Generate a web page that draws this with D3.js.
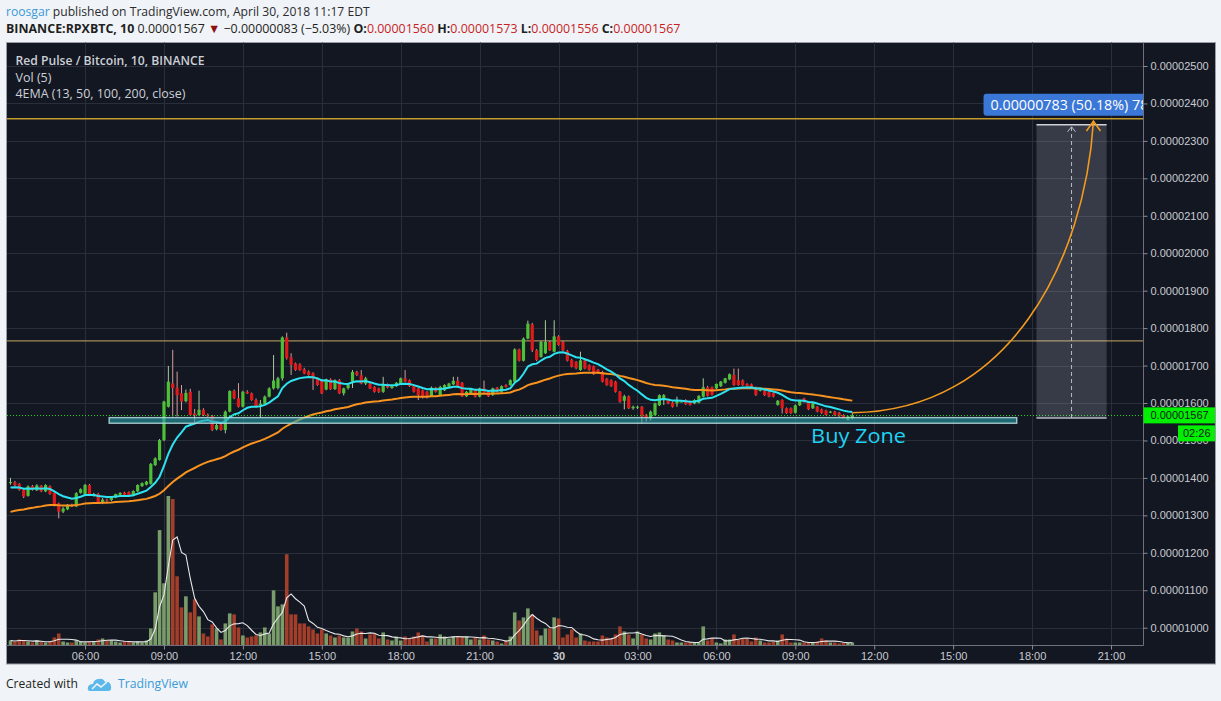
<!DOCTYPE html>
<html>
<head>
<meta charset="utf-8">
<script src="https://cdnjs.cloudflare.com/ajax/libs/d3/7.8.5/d3.min.js"></script>
<style>
  html, body { margin: 0; padding: 0; background: #f0f3f7; }
  svg { display: block; }
</style>
</head>
<body>
<svg id="chart" width="1221" height="701"></svg>
<script>
// RPX/BTC 10 minute bars, prices in satoshi (1e-8 BTC)
// bar index counts 10 min steps from 2018-04-29 00:00, first bar is 03:10
const firstBar = 19;

const opens = [
  1386,1388,1384,1368,1352,
  1378,1367,1379,1364,1378,1360,  1332,1310,1316,1328,1324,1360,
  1356,1381,1354,1357,1336,1342,  1341,1348,1355,1361,1362,1353,
  1364,1378,1382,1384,1434,1448,  1501,1590,1652,1641,1626,1605,
  1630,1572,1568,1582,1569,1565,  1530,1543,1528,1577,1632,1613,
  1590,1630,1626,1608,1594,1598,  1617,1639,1640,1666,1775,1722,
  1706,1703,1690,1684,1679,1666,  1661,1636,1663,1637,1661,1626,
  1640,1657,1683,1674,1652,1652,  1643,1639,1630,1650,1640,1645,
  1651,1666,1661,1645,1639,1634,  1630,1618,1641,1621,1634,1643,
  1650,1659,1654,1618,1626,1636,  1617,1639,1630,1621,1641,1630,
  1648,1648,1657,1743,1713,1772,  1810,1741,1723,1733,1763,1737,
  1778,1763,1739,1715,1710,1688,  1714,1701,1698,1689,1683,1665,
  1661,1657,1630,1606,1618,1586,  1588,1590,1569,1559,1568,1594,
  1608,1608,1601,1599,1604,1608,  1604,1599,1601,1617,1642,1642,
  1639,1645,1654,1663,1675,1661,  1660,1651,1650,1642,1635,1633,
  1630,1626,1595,1608,1586,1586,  1574,1594,1612,1603,1586,1590,
  1583,1580,1577,1577,1574,1568,  1555,1560
];
const highs = [
  1400,1392,1386,1370,1380,
  1381,1383,1381,1383,1380,1362,  1334,1322,1330,1331,1362,1372,
  1384,1384,1360,1360,1346,1345,  1350,1358,1362,1363,1364,1367,
  1383,1388,1392,1440,1455,1504,  1606,1699,1742,1684,1648,1636,
  1638,1584,1633,1586,1572,1568,  1545,1545,1580,1634,1636,1653,
  1633,1634,1628,1612,1608,1620,  1642,1728,1670,1778,1788,1733,
  1708,1706,1694,1687,1682,1668,  1664,1665,1666,1663,1664,1641,
  1650,1688,1686,1688,1670,1655,  1645,1641,1670,1652,1648,1656,
  1668,1688,1663,1648,1641,1636,  1632,1644,1643,1646,1650,1654,
  1670,1670,1656,1632,1640,1638,  1641,1660,1632,1641,1643,1647,
  1650,1663,1746,1745,1775,1820,  1814,1744,1766,1821,1766,1821,
  1781,1766,1742,1718,1712,1737,  1716,1703,1700,1691,1686,1667,
  1663,1659,1632,1622,1620,1593,  1593,1592,1571,1580,1601,1623,
  1624,1611,1604,1617,1607,1610,  1606,1610,1621,1666,1646,1644,
  1652,1659,1667,1679,1692,1692,  1663,1653,1652,1644,1637,1635,
  1632,1628,1608,1610,1588,1588,  1596,1608,1614,1605,1600,1592,
  1585,1582,1579,1579,1576,1570,  1566,1573
];
const lows = [
  1382,1378,1366,1346,1350,
  1366,1365,1362,1362,1355,1324,  1292,1306,1314,1322,1322,1358,
  1354,1352,1350,1333,1330,1336,  1338,1346,1352,1352,1350,1351,
  1362,1376,1380,1382,1432,1446,  1498,1588,1564,1564,1581,1602,
  1566,1546,1565,1565,1563,1525,  1527,1526,1519,1575,1610,1588,
  1588,1624,1606,1588,1562,1596,  1615,1636,1636,1660,1716,1675,
  1686,1686,1677,1673,1635,1646,  1624,1634,1635,1635,1624,1620,
  1636,1640,1672,1650,1648,1637,  1628,1627,1627,1639,1638,1643,
  1649,1655,1643,1628,1608,1612,  1612,1616,1628,1619,1632,1641,
  1648,1641,1616,1616,1624,1615,  1615,1627,1616,1619,1628,1628,
  1641,1646,1655,1711,1711,1770,  1736,1712,1721,1731,1739,1735,
  1753,1739,1711,1695,1690,1686,  1690,1686,1675,1678,1655,1646,
  1643,1628,1601,1583,1584,1582,  1584,1545,1550,1553,1566,1592,
  1595,1597,1588,1590,1602,1595,  1593,1597,1599,1615,1617,1620,
  1637,1643,1652,1661,1646,1646,  1646,1643,1641,1619,1631,1619,
  1615,1615,1593,1572,1571,1571,  1572,1592,1601,1581,1584,1575,
  1571,1567,1573,1566,1563,1559,  1553,1556
];
const closes = [
  1389,1381,1368,1350,1377,
  1368,1380,1364,1381,1357,1328,  1310,1318,1328,1324,1359,1370,
  1381,1354,1357,1336,1342,1340,  1348,1357,1360,1355,1352,1365,
  1381,1386,1390,1437,1452,1501,  1604,1657,1640,1621,1604,1627,
  1568,1568,1582,1568,1566,1528,  1541,1528,1577,1632,1613,1590,
  1630,1626,1608,1590,1598,1617,  1639,1660,1666,1775,1720,1702,
  1688,1688,1679,1675,1666,1648,  1626,1663,1637,1661,1626,1639,
  1648,1683,1675,1652,1666,1639,  1630,1630,1648,1641,1645,1654,
  1666,1657,1645,1630,1621,1618,  1618,1641,1630,1643,1648,1652,
  1659,1643,1618,1630,1637,1617,  1639,1628,1618,1639,1630,1645,
  1643,1661,1743,1713,1772,1812,  1741,1715,1763,1763,1741,1778,
  1755,1741,1713,1697,1693,1714,  1692,1688,1677,1680,1657,1648,
  1645,1630,1603,1618,1586,1590,  1590,1564,1559,1577,1599,1621,
  1621,1599,1590,1608,1604,1597,  1595,1608,1619,1642,1619,1622,
  1651,1657,1666,1677,1648,1648,  1648,1645,1643,1622,1635,1621,
  1617,1617,1606,1586,1573,1573,  1594,1607,1603,1583,1599,1577,
  1573,1568,1577,1568,1565,1559,  1564,1567
];
// volume, relative units
const volumes = [
  5,4,6,5,4,
  3,5,4,3,4,8,      12,4,3,3,5,4,
  3,4,4,6,7,5,      5,4,3,4,4,3,
  4,3,5,17,53,115,  62,149,146,69,38,49,
  33,46,29,12,9,21, 17,6,22,32,31,18,
  10,8,9,10,13,18,  12,55,39,41,91,31,
  31,22,22,19,16,12, 16,12,10,8,10,8,
  8,14,17,14,7,11,  12,7,13,6,5,9,
  5,9,7,9,13,10,    4,7,7,11,9,7,
  9,9,9,9,6,8,      6,10,6,5,4,2,
  5,9,33,25,28,37,  31,15,10,17,17,28,
  27,8,11,16,8,12,  5,4,4,4,10,8,
  7,11,19,14,11,7,  14,11,7,6,12,13,
  10,6,5,3,3,3,     3,3,3,19,5,7,
  3,2,6,6,11,6,     7,7,4,8,5,3,
  3,4,5,11,7,3,     3,3,3,3,3,4,
  7,5,3,3,2,3,      3,3
];

// EMA values at the first bar
const ema13Start = 1372;
const ema50Start = 1306;

const priceTicks = d3.range(1000, 2501, 100);
const levelLines = [2359, 1766];
const lastPrice = 1567;
const buyZonePrices = [1546, 1561];
const buyZoneTimes = ["2018-04-29 06:55", "2018-04-30 17:25"];
const measurePrices = [1560, 2343];
const measureTimes = ["2018-04-30 18:10", "2018-04-30 19:30", "2018-04-30 20:50"];
const arrowTimes = ["2018-04-30 11:10", "2018-04-30 17:10", "2018-04-30 20:00", "2018-04-30 20:20"];
const arrowPrices = [1574, 1579, 1982, 2353];
const buyZoneLabel = {time: "2018-04-30 09:36", price: 1493};

// ---------------------------------------------------------------
const parse = d3.utcParse("%Y-%m-%d %H:%M");
const day0 = Date.UTC(2018, 3, 29, 0, 0);
const barTime = i => new Date(day0 + i * 600000);

const bars = closes.map((c, k) => ({
  t: barTime(firstBar + k), o: opens[k], h: highs[k], l: lows[k], c: c, v: volumes[k]
}));

function ema(values, period, start) {
  const k = 2 / (period + 1);
  let e = start;
  return values.map(v => (e = e + k * (v - e)));
}
const ema13 = ema(closes, 13, ema13Start);
const ema50 = ema(closes, 50, ema50Start);
const volMa = volumes.map((v, k) => d3.mean(volumes.slice(Math.max(0, k - 4), k + 1)));

const L = 7, R = 1143.5, T = 42.5, B = 645.5;

const x = d3.scaleUtc()
  .domain([parse("2018-04-29 03:02"), parse("2018-04-30 22:13")])
  .range([L, 1143]);
const y = d3.scaleLinear().domain([1000, 2500]).range([627.7, 66]);
const vy = d3.scaleLinear().domain([0, 150]).range([B, 495]);

const timeTicks = d3.utcHours(parse("2018-04-29 06:00"), parse("2018-04-30 22:00"), 3);

const svg = d3.select("#chart");

// dark panel
svg.append("rect")
  .attr("x", 6.5).attr("y", 42.5).attr("width", 1209).attr("height", 621.5)
  .attr("fill", "#131722").attr("stroke", "#9a9da6");

svg.append("clipPath").attr("id", "plotclip")
  .append("rect").attr("x", L).attr("y", T).attr("width", R - L).attr("height", B - T);

const grid = svg.append("g").attr("stroke", "#2a2e3a").attr("stroke-width", 1);
timeTicks.forEach(t => {
  grid.append("line").attr("x1", Math.round(x(t)) + 0.5).attr("x2", Math.round(x(t)) + 0.5)
    .attr("y1", T).attr("y2", B);
});
priceTicks.forEach(p => {
  grid.append("line").attr("x1", L).attr("x2", R)
    .attr("y1", Math.round(y(p)) + 0.5).attr("y2", Math.round(y(p)) + 0.5);
});

const plot = svg.append("g").attr("clip-path", "url(#plotclip)");

// volume
plot.append("g").selectAll("rect").data(bars).enter().append("rect")
  .attr("x", d => x(d.t) - 1.8)
  .attr("width", 3.6)
  .attr("y", d => vy(d.v))
  .attr("height", d => B - vy(d.v))
  .attr("fill", d => d.c >= d.o ? "#7a9c6a" : "#a33e2a");

plot.append("path")
  .datum(bars)
  .attr("fill", "none")
  .attr("stroke", "#e8e8ea")
  .attr("stroke-width", 1.1)
  .attr("d", d3.line().x(d => x(d.t)).y((d, k) => vy(volMa[k])));

// horizontal levels
plot.append("line").attr("x1", L).attr("x2", R)
  .attr("y1", y(levelLines[0])).attr("y2", y(levelLines[0]))
  .attr("stroke", "#c39a2e").attr("stroke-width", 1.4);
plot.append("line").attr("x1", L).attr("x2", R)
  .attr("y1", y(levelLines[1])).attr("y2", y(levelLines[1]))
  .attr("stroke", "#a48c58").attr("stroke-width", 1.2);

// candles
const candle = plot.append("g").selectAll("g").data(bars).enter().append("g");
candle.append("line")
  .attr("x1", d => x(d.t)).attr("x2", d => x(d.t))
  .attr("y1", d => y(d.h)).attr("y2", d => y(d.l))
  .attr("stroke", d => d.c >= d.o ? "#a9cc9e" : "#d79b9b")
  .attr("stroke-width", 1);
candle.append("rect")
  .attr("x", d => x(d.t) - 1.6)
  .attr("width", 3.2)
  .attr("y", d => y(Math.max(d.o, d.c)))
  .attr("height", d => Math.max(1, Math.abs(y(d.o) - y(d.c))))
  .attr("fill", d => d.c >= d.o ? "#4dbf38" : "#e0191b");

// EMA lines
plot.append("path").datum(bars)
  .attr("fill", "none").attr("stroke", "#f7931e").attr("stroke-width", 2)
  .attr("d", d3.line().x(d => x(d.t)).y((d, k) => y(ema50[k])));
plot.append("path").datum(bars)
  .attr("fill", "none").attr("stroke", "#2ee3ef").attr("stroke-width", 2)
  .attr("d", d3.line().x(d => x(d.t)).y((d, k) => y(ema13[k])));

// buy zone
plot.append("rect")
  .attr("x", x(parse(buyZoneTimes[0])))
  .attr("width", x(parse(buyZoneTimes[1])) - x(parse(buyZoneTimes[0])))
  .attr("y", y(buyZonePrices[1]))
  .attr("height", y(buyZonePrices[0]) - y(buyZonePrices[1]))
  .attr("fill", "rgba(40,160,170,0.6)")
  .attr("stroke", "rgba(185,222,226,0.85)")
  .attr("stroke-width", 1.4);

// last price dotted line
plot.append("line").attr("x1", L).attr("x2", R)
  .attr("y1", Math.round(y(lastPrice)) + 0.5).attr("y2", Math.round(y(lastPrice)) + 0.5)
  .attr("stroke", "#1ed31e").attr("stroke-width", 1).attr("stroke-dasharray", "1,2");

// measurement box
const mx0 = x(parse(measureTimes[0])), mxc = x(parse(measureTimes[1])), mx1 = x(parse(measureTimes[2]));
const my0 = y(measurePrices[0]), my1 = y(measurePrices[1]);
plot.append("rect").attr("x", mx0).attr("width", mx1 - mx0)
  .attr("y", my1).attr("height", my0 - my1)
  .attr("fill", "rgba(200,205,222,0.2)");
plot.append("line").attr("x1", mx0).attr("x2", mx1).attr("y1", my1).attr("y2", my1)
  .attr("stroke", "#cfd1d6").attr("stroke-width", 1.5);
plot.append("line").attr("x1", mx0).attr("x2", mx1).attr("y1", my0).attr("y2", my0)
  .attr("stroke", "#b8bac0").attr("stroke-width", 1.5);
plot.append("line").attr("x1", mxc).attr("x2", mxc).attr("y1", my0).attr("y2", my1 + 2)
  .attr("stroke", "#b9bbc1").attr("stroke-width", 1).attr("stroke-dasharray", "4,3");
plot.append("path")
  .attr("d", `M${mxc - 4},${my1 + 7}L${mxc},${my1 + 2}L${mxc + 4},${my1 + 7}`)
  .attr("fill", "none").attr("stroke", "#b9bbc1").attr("stroke-width", 1);

// projected curve
const ap = arrowTimes.map((t, k) => [x(parse(t)), y(arrowPrices[k])]);
plot.append("path")
  .attr("d", `M${ap[0]}C${ap[1]} ${ap[2]} ${ap[3]}`)
  .attr("fill", "none").attr("stroke", "#f39a1f").attr("stroke-width", 1.6);
plot.append("path")
  .attr("d", `M${ap[3][0] - 7},${ap[3][1] + 10}L${ap[3][0]},${ap[3][1]}L${ap[3][0] + 7},${ap[3][1] + 10}`)
  .attr("fill", "none").attr("stroke", "#f39a1f").attr("stroke-width", 1.6);

// measurement label (cut by the plot edge, as on the original)
plot.append("rect").attr("x", mxc - 88).attr("y", my1 - 31).attr("width", 190).attr("height", 22)
  .attr("rx", 3).attr("fill", "#3b77d6");
plot.append("text").attr("x", mxc - 81).attr("y", my1 - 14.5)
  .attr("font-family", "Open Sans, sans-serif").attr("font-size", 14.3).attr("fill", "#ffffff")
  .text("0.00000783 (50.18%) 78");

const bzText = plot.append("text")
  .attr("font-family", "Open Sans, sans-serif").attr("font-size", 20)
  .attr("fill", "#1fd3f2").text("Buy Zone");

// plot border
svg.append("path").attr("d", `M${L - 1},${B}H${R}V${T}`)
  .attr("fill", "none").attr("stroke", "#6e717b").attr("stroke-width", 1);

// axes
const xAxis = svg.append("g").attr("transform", `translate(0,${B})`)
  .call(d3.axisBottom(x).tickValues(timeTicks).tickSize(4)
    .tickFormat(t => t.getUTCHours() === 0 ? d3.utcFormat("%-d")(t) : d3.utcFormat("%H:%M")(t)));
xAxis.select(".domain").remove();
xAxis.selectAll("line").attr("stroke", "#8a8d96");
xAxis.selectAll("text").attr("fill", "#c8cad0")
  .attr("font-family", "Liberation Sans, Arial, sans-serif").attr("font-size", 11)
  .attr("font-weight", t => t.getUTCHours() === 0 ? "bold" : null);

const yAxis = svg.append("g").attr("transform", `translate(${R},0)`)
  .call(d3.axisRight(y).tickValues(priceTicks).tickSize(4).tickFormat(p => (p / 1e8).toFixed(8)));
yAxis.select(".domain").remove();
yAxis.selectAll("line").attr("stroke", "#8a8d96");
yAxis.selectAll("text").attr("fill", "#c8cad0")
  .attr("font-family", "Liberation Sans, Arial, sans-serif").attr("font-size", 11);

// last price tag and countdown
const ly = y(lastPrice);
svg.append("rect").attr("x", R).attr("y", ly - 8).attr("width", 1215 - R).attr("height", 16).attr("fill", "#00f000");
svg.append("text").attr("x", R + 7).attr("y", ly + 4)
  .attr("font-family", "Liberation Sans, Arial, sans-serif").attr("font-size", 11).attr("fill", "#131722")
  .text((lastPrice / 1e8).toFixed(8));
svg.append("rect").attr("x", 1178).attr("y", ly + 10).attr("width", 37).attr("height", 16).attr("fill", "#00f000");
svg.append("text").attr("x", 1183).attr("y", ly + 22)
  .attr("font-family", "Liberation Sans, Arial, sans-serif").attr("font-size", 11).attr("fill", "#131722")
  .text("02:26");

// text helpers
function fitText(sel, x0, y0, width) {
  const w = sel.node().getComputedTextLength();
  sel.attr("transform", `translate(${x0},${y0}) scale(${width / w},1)`);
}

fitText(bzText, x(parse(buyZoneLabel.time)), y(buyZoneLabel.price), 95);

const hdrFont = "Open Sans, Noto Sans, sans-serif";
const line1 = svg.append("text").attr("font-family", hdrFont).attr("font-size", 12.5);
line1.append("tspan").attr("fill", "#3a9ad9").text("roosgar");
line1.append("tspan").attr("fill", "#2a2b2e").text(" published on TradingView.com, April 30, 2018 11:17 EDT");
fitText(line1, 6, 16, 364);

const red = "#c71f1f";
const line2 = svg.append("text").attr("font-family", hdrFont).attr("font-size", 12.5).attr("fill", "#1e1f22");
line2.append("tspan").attr("font-weight", "bold").text("BINANCE:RPXBTC, 10");
line2.append("tspan").text(" 0.00001567 ");
line2.append("tspan").attr("fill", "#8e1010").attr("font-size", 12.5).text("▼");
line2.append("tspan").text(" \u22120.00000083 (\u22125.03%) ");
[["O:", "0.00001560"], [" H:", "0.00001573"], [" L:", "0.00001556"], [" C:", "0.00001567"]].forEach(p => {
  line2.append("tspan").attr("font-weight", "bold").text(p[0]);
  line2.append("tspan").attr("fill", red).text(p[1]);
});
fitText(line2, 6, 33, 675);

const legendColor = "#cdd0d6";
const lg1 = svg.append("text").attr("font-family", hdrFont).attr("font-size", 12.5)
  .attr("font-weight", 600).attr("fill", legendColor).text("Red Pulse / Bitcoin, 10, BINANCE");
fitText(lg1, 15.5, 65, 189);
const lg2 = svg.append("text").attr("font-family", hdrFont).attr("font-size", 12.5)
  .attr("fill", legendColor).text("Vol (5)");
fitText(lg2, 15.5, 82, 36);
const lg3 = svg.append("text").attr("font-family", hdrFont).attr("font-size", 12.5)
  .attr("fill", legendColor).text("4EMA (13, 50, 100, 200, close)");
fitText(lg3, 15.5, 98, 170);

// footer
const ft1 = svg.append("text").attr("font-family", hdrFont).attr("font-size", 13)
  .attr("fill", "#1e1f22").text("Created with");
fitText(ft1, 6, 688, 72);
const logo = svg.append("g").attr("transform", "translate(88,676)");
logo.append("path")
  .attr("d", "M2,15 Q-1,15 0,11 Q1,8 5,8 Q6,3 11,3 Q15,2 17,6 Q22,5 23,10 Q24,15 20,15 Z")
  .attr("fill", "#5bb8ea");
logo.append("path").attr("d", "M4,13 L9,8 L13,11 L19,6")
  .attr("fill", "none").attr("stroke", "#f0f3f7").attr("stroke-width", 1.6);
const ft2 = svg.append("text").attr("font-family", hdrFont).attr("font-size", 13)
  .attr("fill", "#3a9ad9").text("TradingView");
fitText(ft2, 118, 688, 70);
</script>
</body>
</html>
